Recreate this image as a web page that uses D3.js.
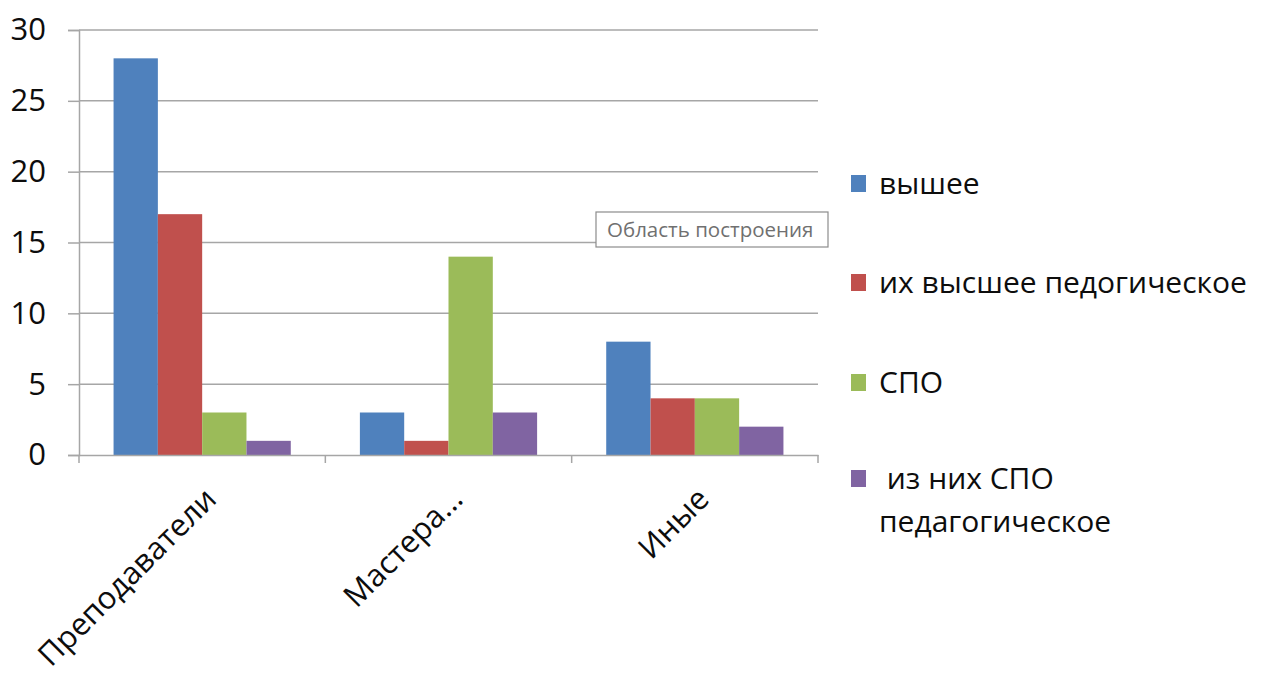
<!DOCTYPE html>
<html>
<head>
<meta charset="utf-8">
<script src="https://cdn.jsdelivr.net/npm/d3@7"></script>
<style>
  body { margin: 0; background: #fff; }
  svg text { font-family: "Open Sans", "DejaVu Sans", sans-serif; }
</style>
</head>
<body>
<div id="chart"></div>
<script>
// data
var categories = ['Преподаватели', 'Мастера...', 'Иные']
var seriesNames = ['вышее', 'их высшее педогическое', 'СПО', 'из них СПО педагогическое']
var legendLines = [['вышее'], ['их высшее педогическое'], ['СПО'], [' из них СПО', 'педагогическое']]
var colors = ['#4f81bd', '#c0504d', '#9bbb59', '#8064a2']
var values = [
    [28, 17, 3, 1],
    [3, 1, 14, 3],
    [8, 4, 4, 2]
]
var yTicks = [0, 5, 10, 15, 20, 25, 30]

var width = 1262, height = 675
var plot = { left: 79, right: 818, top: 30, bottom: 455 }

var svg = d3.select('#chart').append('svg')
    .attr('width', width)
    .attr('height', height)

var x = d3.scaleBand()
    .domain(categories)
    .range([plot.left, plot.right])
    .paddingInner(0)
    .paddingOuter(0)

var xs = d3.scaleBand()
    .domain(seriesNames)
    .range([0, x.bandwidth()])
    .paddingOuter(0.78)
    .paddingInner(0)

var y = d3.scaleLinear()
    .domain([0, 30])
    .range([plot.bottom, plot.top])

// gridlines
svg.append('g')
    .selectAll('line')
    .data(yTicks.filter(d => d > 0))
    .join('line')
    .attr('x1', plot.left)
    .attr('x2', plot.right)
    .attr('y1', d => y(d))
    .attr('y2', d => y(d))
    .attr('stroke', '#a6a6a6')
    .attr('stroke-width', 1.5)

// bars
svg.append('g')
    .selectAll('g')
    .data(values.map((v, i) => ({ cat: categories[i], v: v })))
    .join('g')
    .attr('transform', d => 'translate(' + x(d.cat) + ',0)')
    .selectAll('rect')
    .data(d => d.v.map((val, j) => ({ name: seriesNames[j], val: val, j: j })))
    .join('rect')
    .attr('x', d => xs(d.name))
    .attr('width', xs.bandwidth())
    .attr('y', d => y(d.val))
    .attr('height', d => y(0) - y(d.val))
    .attr('fill', d => colors[d.j])

// y axis
var yAxis = svg.append('g')
    .attr('transform', 'translate(' + plot.left + ',0)')
    .call(d3.axisLeft(y).tickValues(yTicks).tickSize(11).tickPadding(22))
yAxis.select('.domain').attr('stroke', '#a6a6a6').attr('stroke-width', 1.5)
yAxis.selectAll('.tick line').attr('stroke', '#a6a6a6').attr('stroke-width', 1.5)
yAxis.selectAll('.tick text')
    .attr('fill', '#0d0d0d')
    .style('font-size', '31px')
    .style('font-family', '"Open Sans", sans-serif')

// x axis
var xAxis = svg.append('g')
    .attr('transform', 'translate(0,' + plot.bottom + ')')
    .call(d3.axisBottom(x).tickSize(0).tickFormat(''))
xAxis.select('.domain').attr('stroke', '#a6a6a6').attr('stroke-width', 1.5)
xAxis.selectAll('.tick').remove()

svg.append('g')
    .selectAll('line')
    .data(categories.concat(['end']))
    .join('line')
    .attr('x1', (d, i) => plot.left + i * x.bandwidth())
    .attr('x2', (d, i) => plot.left + i * x.bandwidth())
    .attr('y1', plot.bottom)
    .attr('y2', plot.bottom + 8)
    .attr('stroke', '#a6a6a6')
    .attr('stroke-width', 1.5)

svg.append('g')
    .selectAll('text')
    .data(categories)
    .join('text')
    .attr('transform', d => 'translate(' + (x(d) + x.bandwidth() / 2 + 16) + ',' + (plot.bottom + 46) + ') rotate(-45)')
    .attr('text-anchor', 'end')
    .style('font-size', '31px')
    .attr('fill', '#0d0d0d')
    .text(d => d)

// legend
var legendY = [183, 282, 382, 478]
var legend = svg.append('g')
    .selectAll('g')
    .data(seriesNames)
    .join('g')
    .attr('transform', (d, i) => 'translate(851,' + legendY[i] + ')')

legend.append('rect')
    .attr('x', 0)
    .attr('y', -8)
    .attr('width', 15)
    .attr('height', 17)
    .attr('fill', (d, i) => colors[i])

legend.append('text')
    .attr('x', 28)
    .attr('y', 0)
    .style('font-size', '30px')
    .style('white-space', 'pre')
    .attr('fill', '#0d0d0d')
    .selectAll('tspan')
    .data((d, i) => legendLines[i])
    .join('tspan')
    .attr('x', 28)
    .attr('dy', (d, i) => i == 0 ? '0.35em' : '1.45em')
    .text(d => d)

// tooltip box
var tip = svg.append('g').attr('transform', 'translate(596,212)')
tip.append('rect')
    .attr('width', 232)
    .attr('height', 35)
    .attr('fill', '#fff')
    .attr('stroke', '#8c8c8c')
    .attr('stroke-width', 1.2)
tip.append('text')
    .attr('x', 11)
    .attr('y', 18)
    .attr('dy', '0.35em')
    .style('font-size', '20.5px')
    .attr('fill', '#707070')
    .text('Область построения')
</script>
</body>
</html>
